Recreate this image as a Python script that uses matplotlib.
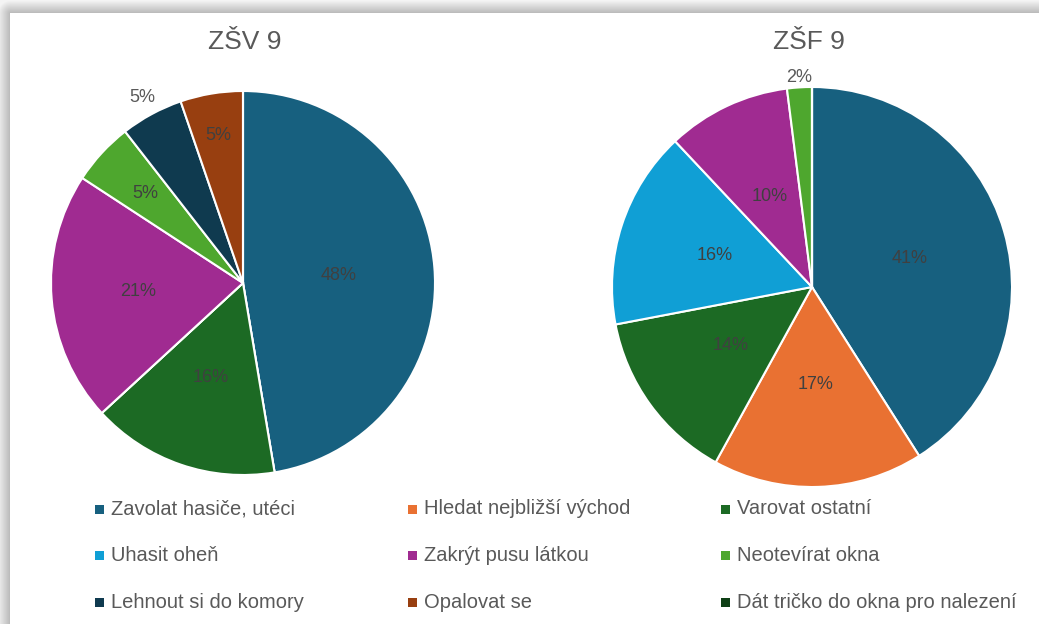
import numpy as np
import matplotlib
matplotlib.use("Agg")
import matplotlib.pyplot as plt
from matplotlib.patches import Rectangle

plt.rcParams['font.family'] = ['Liberation Sans', 'DejaVu Sans']

# data: answers per school (slice sizes) and the percentage labels shown in the chart
categories = ["Zavolat hasiče, utéci", "Hledat nejbližší východ", "Varovat ostatní",
              "Uhasit oheň", "Zakrýt pusu látkou", "Neotevírat okna",
              "Lehnout si do komory", "Opalovat se", "Dát tričko do okna pro nalezení"]
colors = ["#17607f", "#E97132", "#1c6a24", "#109fd5", "#a02b91", "#4ea72e",
          "#0f3a4f", "#983f10", "#0f4016"]
zsv9 = [9, 0, 3, 0, 4, 1, 1, 1, 0]
zsv9_labels = ["48%", "", "16%", "", "21%", "5%", "5%", "5%", ""]
zsf9 = [41, 17, 14, 16, 10, 2, 0, 0, 0]
zsf9_labels = ["41%", "17%", "14%", "16%", "10%", "2%", "", "", ""]
titles = ["ZŠV 9", "ZŠF 9"]

# label distance (fraction of radius) per slice, Excel "best fit"-like
lab_dist_zsv = [0.50, 0.5, 0.52, 0.5, 0.55, 0.69, 1.10, 0.78, 0.5]
lab_dist_zsf = [0.51, 0.49, 0.50, 0.51, 0.50, 1.05, 0.5, 0.5, 0.5]

W, H = 1039, 624
fig = plt.figure(figsize=(W / 100, H / 100), dpi=100)

# screenshot shadow around the card
bg = fig.add_axes([0, 0, 1, 1], zorder=-10)
yy, xx = np.mgrid[0:H, 0:W]
dx = np.clip(10 - xx, 0, None)
dy = np.clip(13 - yy, 0, None)
d = np.sqrt(dx ** 2 + dy ** 2)
shade = np.where(d > 0, 0.72 + 0.24 * np.clip(d / 13.0, 0, 1), 1.0)
bg.imshow(np.dstack([shade] * 3), extent=[0, W, 0, H], origin='upper', aspect='auto')
bg.axis('off')


def draw_pie(cx, cy, r, values, labels, title, title_x, dists):
    ax = fig.add_axes([(cx - r) / W, (H - cy - r) / H, 2 * r / W, 2 * r / H])
    wedges, _ = ax.pie(values, colors=colors, startangle=90, counterclock=False,
                       wedgeprops=dict(edgecolor='white', linewidth=1.5))
    for w, v, lab, dist in zip(wedges, values, labels, dists):
        if v == 0:
            continue
        ang = np.deg2rad((w.theta1 + w.theta2) / 2)
        col = '#404040' if dist < 1 else '#595959'
        ax.text(dist * np.cos(ang), dist * np.sin(ang), lab,
                ha='center', va='center', fontsize=13, color=col)
    ax.set_xlim(-1, 1)
    ax.set_ylim(-1, 1)
    fig.text(title_x / W, 1 - 42 / H, title, ha='center', va='center', fontsize=19, color='#595959')


draw_pie(243, 283, 192, zsv9, zsv9_labels, titles[0], 245, lab_dist_zsv)
draw_pie(812, 287, 200, zsf9, zsf9_labels, titles[1], 809, lab_dist_zsf)

# legend, three columns, row-wise like Excel
for i, (name, col) in enumerate(zip(categories, colors)):
    row, c = i // 3, i % 3
    x = 99 + c * 313
    y = 509 + row * 46.5
    fig.patches.append(Rectangle(((x - 4.5) / W, (H - y - 4.5) / H), 9 / W, 9 / H,
                                 transform=fig.transFigure, facecolor=col, edgecolor='none'))
    fig.text((x + 12) / W, 1 - y / H, name, ha='left', va='center', fontsize=14.5, color='#595959')

fig.savefig("out.png", dpi=100)
